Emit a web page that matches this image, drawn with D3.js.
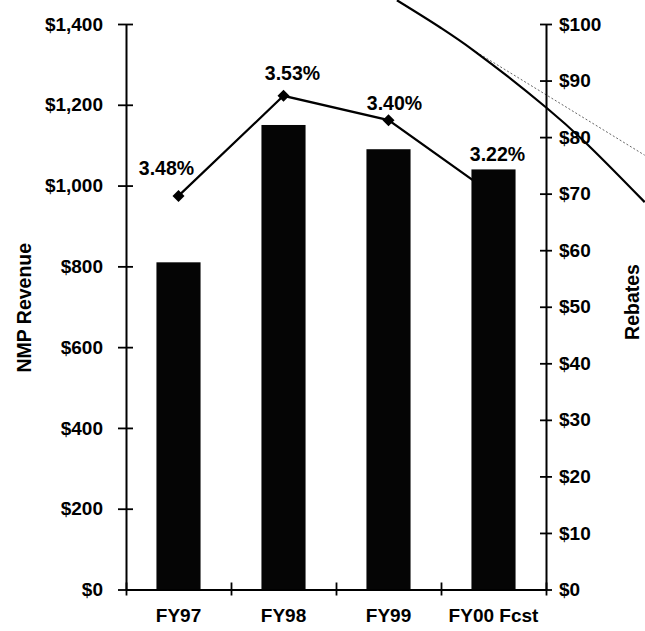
<!DOCTYPE html>
<html>
<head>
<meta charset="utf-8">
<script src="https://cdn.jsdelivr.net/npm/d3@7"></script>
<style>
  html, body { margin: 0; padding: 0; background: #fff; }
  svg { display: block; }
  text { font-family: "Liberation Sans", Arial, sans-serif; font-weight: bold; fill: #000; }
</style>
</head>
<body>
<svg id="chart" width="645" height="631"></svg>
<script>
// ---- data ----
const categories = ["FY97", "FY98", "FY99", "FY00 Fcst"];
const revenue = [810, 1150, 1090, 1040];          // NMP Revenue (left axis, $)
const rebates = [69.6, 87.3, 83.0, 69.8];          // Rebates (right axis, $)
const rateLabels = ["3.48%", "3.53%", "3.40%", "3.22%"];
const leftTicks = [0, 200, 400, 600, 800, 1000, 1200, 1400];
const rightTicks = [0, 10, 20, 30, 40, 50, 60, 70, 80, 90, 100];
// scan artifact strokes (x in category units, y in rebate units)
const artifactSolidX = [2.58, 3.0, 3.305, 4.01, 4.35, 4.94];
const artifactSolidY = [104.2, 99.3, 95.4, 85.1, 79.5, 68.5];
const artifactDotX = [3.305, 4.94];
const artifactDotY = [95.4, 76.8];

// ---- layout (not data) ----
const labelOffsets = [[-12, -21], [9, -16], [6, -10], [4, -34]];
const plot = { left: 126, right: 546, top: 24, bottom: 589.5 };

const svg = d3.select("#chart");

const x = d3.scaleBand().domain(categories).range([plot.left, plot.right]).padding(0);
const xLin = d3.scaleLinear().domain([0, categories.length]).range([plot.left, plot.right]);
const yL = d3.scaleLinear().domain([0, 1400]).range([plot.bottom, plot.top]);
const yR = d3.scaleLinear().domain([0, 100]).range([plot.bottom, plot.top]);
const barW = x.bandwidth() * 0.42;

// scan artifact strokes
const artLine = d3.line().x(d => xLin(d[0])).y(d => yR(d[1])).curve(d3.curveCatmullRom);
svg.append("path")
  .attr("d", artLine(artifactDotX.map((v, i) => [v, artifactDotY[i]])))
  .attr("fill", "none").attr("stroke", "#666").attr("stroke-width", 1)
  .attr("stroke-dasharray", "2,2");
svg.append("path")
  .attr("d", artLine(artifactSolidX.map((v, i) => [v, artifactSolidY[i]])))
  .attr("fill", "none").attr("stroke", "#000").attr("stroke-width", 2.2);

// rebates line + markers (drawn beneath bars)
const line = d3.line()
  .x((d, i) => x(categories[i]) + x.bandwidth() / 2)
  .y(d => yR(d));
svg.append("path")
  .attr("d", line(rebates))
  .attr("fill", "none").attr("stroke", "#000").attr("stroke-width", 2.2);

svg.selectAll(".marker").data(rebates).join("path")
  .attr("class", "marker")
  .attr("d", d3.symbol(d3.symbolSquare, 72))
  .attr("transform", (d, i) => `translate(${x(categories[i]) + x.bandwidth() / 2},${yR(d)}) rotate(45)`)
  .attr("fill", "#000");

// bars
svg.selectAll(".bar").data(revenue).join("rect")
  .attr("class", "bar")
  .attr("x", (d, i) => x(categories[i]) + (x.bandwidth() - barW) / 2)
  .attr("width", barW)
  .attr("y", d => yL(d))
  .attr("height", d => yL(0) - yL(d))
  .attr("fill", "#050505");

// percentage labels
svg.selectAll(".pct").data(rateLabels).join("text")
  .attr("class", "pct")
  .attr("x", (d, i) => x(categories[i]) + x.bandwidth() / 2 + labelOffsets[i][0])
  .attr("y", (d, i) => yR(rebates[i]) + labelOffsets[i][1])
  .attr("text-anchor", "middle")
  .style("font-size", "19.5px")
  .text(d => d);

// left axis
const gL = svg.append("g").attr("transform", `translate(${plot.left},0)`)
  .call(d3.axisLeft(yL).tickValues(leftTicks).tickFormat(d3.format("$,"))
    .tickSizeInner(8).tickSizeOuter(0).tickPadding(15));
gL.selectAll(".tick line").attr("x1", 7).attr("stroke-width", 1.8);
gL.select(".domain").attr("stroke-width", 2);
gL.selectAll("text").style("font-size", "19px").style("font-family", "'Liberation Sans', Arial, sans-serif").style("font-weight", "bold");

// right axis
const gR = svg.append("g").attr("transform", `translate(${plot.right},0)`)
  .call(d3.axisRight(yR).tickValues(rightTicks).tickFormat(d3.format("$"))
    .tickSizeInner(6).tickSizeOuter(0).tickPadding(7));
gR.selectAll(".tick line").attr("x1", -6).attr("stroke-width", 1.8);
gR.select(".domain").attr("stroke-width", 2);
gR.selectAll("text").style("font-size", "19px").style("font-family", "'Liberation Sans', Arial, sans-serif").style("font-weight", "bold");

// bottom axis (boundary ticks)
const gB = svg.append("g").attr("transform", `translate(0,${plot.bottom})`)
  .call(d3.axisBottom(xLin).tickValues(d3.range(categories.length + 1)).tickFormat("")
    .tickSizeInner(6).tickSizeOuter(0));
gB.selectAll(".tick line").attr("y1", -7).attr("stroke-width", 1.8);
gB.select(".domain").attr("stroke-width", 2);

// category labels
svg.selectAll(".cat").data(categories).join("text")
  .attr("class", "cat")
  .attr("x", d => x(d) + x.bandwidth() / 2)
  .attr("y", 622)
  .attr("text-anchor", "middle")
  .style("font-size", "19px")
  .text(d => d);

// axis titles
svg.append("text")
  .attr("transform", `translate(30.5,${(plot.top + plot.bottom) / 2 + 1}) rotate(-90)`)
  .attr("text-anchor", "middle")
  .style("font-size", "19.5px")
  .text("NMP Revenue");
svg.append("text")
  .attr("transform", `translate(639,302) rotate(-90)`)
  .attr("text-anchor", "middle")
  .style("font-size", "19.5px")
  .text("Rebates");
</script>
</body>
</html>
